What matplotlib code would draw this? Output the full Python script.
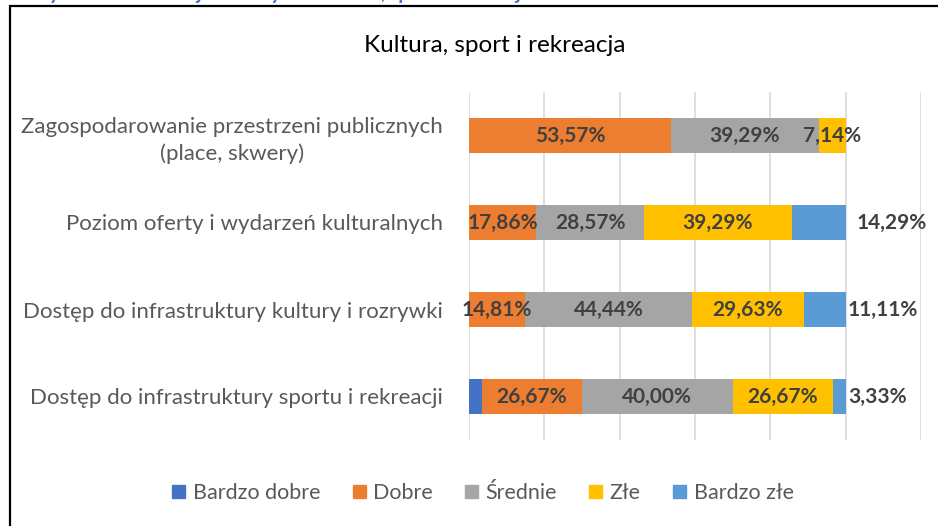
import matplotlib.pyplot as plt
import numpy as np
from matplotlib.patches import Rectangle

# Categories (top to bottom) and ratings per series, in percent
categories = ["Zagospodarowanie przestrzeni publicznych\n(place, skwery)",
              "Poziom oferty i wydarzeń kulturalnych",
              "Dostęp do infrastruktury kultury i rozrywki",
              "Dostęp do infrastruktury sportu i rekreacji"]
series_names = ["Bardzo dobre", "Dobre", "Średnie", "Złe", "Bardzo złe"]
bardzo_dobre = [0.0, 0.0, 0.0, 3.33]
dobre = [53.57, 17.86, 14.81, 26.67]
srednie = [39.29, 28.57, 44.44, 40.00]
zle = [7.14, 39.29, 29.63, 26.67]
bardzo_zle = [0.0, 14.29, 11.11, 3.33]

colors = ["#4472C4", "#ED7D31", "#A5A5A5", "#FFC000", "#5B9BD5"]
label_color = "#404040"
text_color = "#595959"
plt.rcParams['font.family'] = ['Lato', 'DejaVu Sans']

def fmt(v):
    return f"{v:.2f}%".replace(".", ",")

fig = plt.figure(figsize=(9.38, 5.26), dpi=100)
ax = fig.add_axes([469 / 938, 1 - 440 / 526, (921 - 469) / 938, (440 - 92) / 526])

values = [bardzo_dobre, dobre, srednie, zle, bardzo_zle]
y = np.arange(len(categories))
left = np.zeros(len(categories))
for i, (name, vals) in enumerate(zip(series_names, values)):
    vals = np.array(vals)
    ax.barh(y, vals, left=left, height=0.41, color=colors[i], label=name, zorder=2)
    for j, v in enumerate(vals):
        if v <= 0 or i == 0:
            continue
        if i == 4:
            # last series labelled just outside the bar
            pad = 3.0 if j == 1 else 0.6
            ax.text(left[j] + v + pad, y[j], fmt(v), ha='left', va='center',
                    fontsize=15, fontweight='bold', color=label_color, zorder=3)
        else:
            ax.text(left[j] + v / 2, y[j], fmt(v), ha='center', va='center',
                    fontsize=15, fontweight='bold', color=label_color, zorder=3)
    left += vals

ax.set_xlim(0, 120)
ax.set_ylim(3.5, -0.5)
ax.set_xticks(np.arange(0, 121, 20))
ax.set_xticklabels([])
ax.grid(axis='x', color='#D9D9D9', linewidth=1.2, zorder=0)
ax.tick_params(axis='both', length=0)
ax.set_yticks(y)
ax.set_yticklabels(categories, fontsize=16, color=text_color, multialignment='center',
                   linespacing=1.35)
ax.tick_params(axis='y', pad=19)
for s in ax.spines.values():
    s.set_visible(False)

fig.text(495 / 938, 1 - 45 / 526, "Kultura, sport i rekreacja", ha='center', va='center',
         fontsize=17.5, color='black')

handles = [Rectangle((0, 0), 1, 1, color=c) for c in colors]
fig.legend(handles, series_names, loc='center', bbox_to_anchor=(483 / 938, 1 - 493 / 526),
           ncol=5, frameon=False, fontsize=15.5, labelcolor=text_color,
           handlelength=0.6, handleheight=0.6, handletextpad=0.35, columnspacing=1.5)

# chart border (cropped at right and bottom) and cut-off caption above it
fig.patches.append(Rectangle((9.5 / 938, -0.1), 1.2, 1.1 - 6 / 526, transform=fig.transFigure,
                             fill=False, edgecolor='black', linewidth=1.6))
fig.text(30 / 938, 1 + 1 / 526, "Wykres 14. Ocena jakości życia: kultura, sport i rekreacja",
         ha='left', va='baseline', fontsize=15, style='italic', fontweight='bold', color='#4472C4')

fig.savefig("out.png", dpi=100)
